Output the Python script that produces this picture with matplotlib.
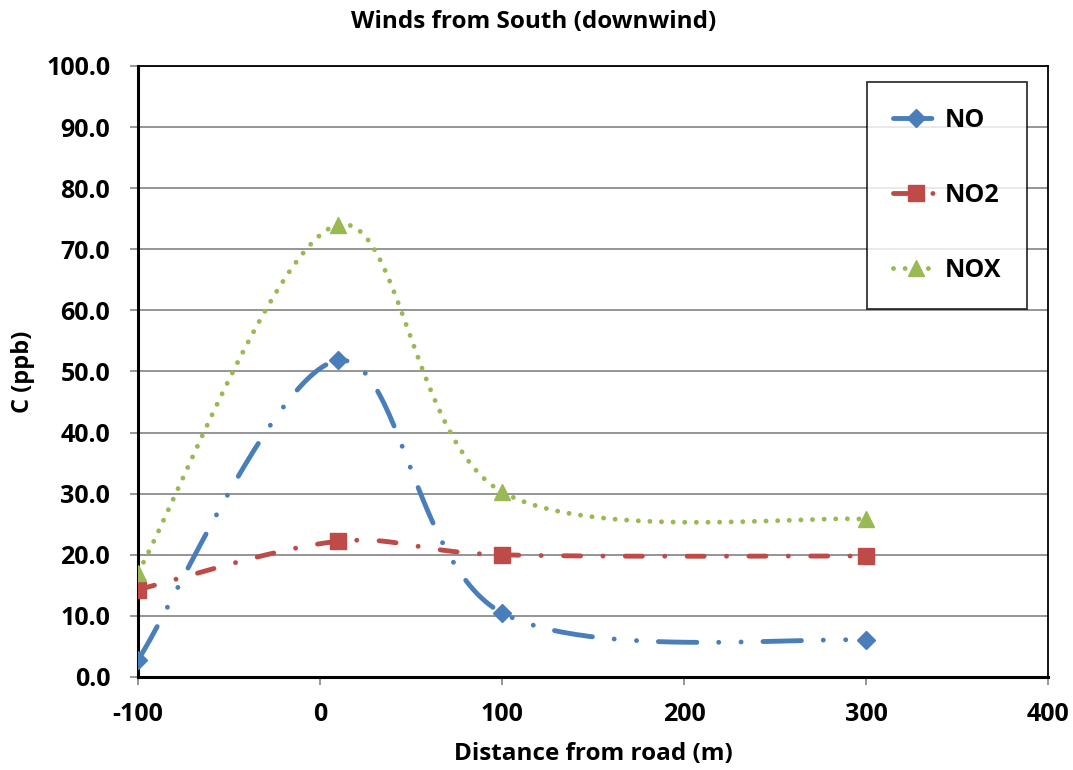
import matplotlib
matplotlib.use("Agg")
import matplotlib.pyplot as plt
import numpy as np
from matplotlib.ticker import FormatStrFormatter

plt.rcParams["font.family"] = ["Open Sans", "DejaVu Sans"]
plt.rcParams["font.weight"] = "bold"
plt.rcParams["axes.unicode_minus"] = False

# data
distance = [-100, 10, 100, 300]
no_vals = [2.8, 51.8, 10.5, 6.0]
no2_vals = [14.3, 22.2, 20.0, 19.8]
nox_vals = [17.1, 74.0, 30.3, 25.8]

x_ticks = [-100, 0, 100, 200, 300, 400]
y_ticks = np.arange(0, 101, 10)

COL_NO = "#4A7EBB"
COL_NO2 = "#BE4B48"
COL_NOX = "#98B954"


def smooth(xs, ys, n=60):
    # Excel-style smoothed line: Bezier segments with Catmull-Rom control points
    p = np.column_stack([xs, ys]).astype(float)
    p = np.vstack([p[0], p, p[-1]])
    out = []
    t = np.linspace(0, 1, n)[:, None]
    for i in range(1, len(p) - 2):
        p0, p1, p2, p3 = p[i - 1], p[i], p[i + 1], p[i + 2]
        c1 = p1 + (p2 - p0) / 6
        c2 = p2 - (p3 - p1) / 6
        seg = ((1 - t) ** 3) * p1 + 3 * ((1 - t) ** 2) * t * c1 \
            + 3 * (1 - t) * t ** 2 * c2 + t ** 3 * p2
        out.append(seg if i == 1 else seg[1:])
    out = np.vstack(out)
    return out[:, 0], out[:, 1]


fig = plt.figure(figsize=(10.73, 7.70), dpi=100)
ax = fig.add_axes([0.1286, 0.1208, 0.8481, 0.7935])

LW = 3.5
series = [
    ("NO", no_vals, COL_NO, "D", 9.5, (7.9, 4.5, 0.01, 4.6, 0.01, 4.5)),
    ("NO2", no2_vals, COL_NO2, "s", 11, (3.5, 4.6, 0.01, 4.6)),
    ("NOX", nox_vals, COL_NOX, "^", 12, (0.01, 2.38)),
]

handles = []
for name, vals, col, mk, ms, dash in series:
    sx, sy = smooth(distance, vals)
    ax.plot(sx, sy, color=col, lw=LW, dashes=dash, dash_capstyle="round",
            solid_capstyle="round", zorder=3)
    ax.plot(distance, vals, linestyle="none", marker=mk, ms=ms, color=col,
            markeredgecolor=col, zorder=4)
    h, = ax.plot([], [], color=col, lw=LW, dashes=dash, dash_capstyle="round",
                 marker=mk, ms=ms, markeredgecolor=col, label=name)
    handles.append(h)

ax.set_xlim(-100, 400)
ax.set_ylim(0, 100)
ax.set_xticks(x_ticks)
ax.set_yticks(y_ticks)
ax.yaxis.set_major_formatter(FormatStrFormatter("%.1f"))
ax.tick_params(labelsize=18, length=6, width=1.2, color="#868686")
ax.tick_params(axis="y", pad=14)
ax.tick_params(axis="x", pad=12)
ax.grid(axis="y", color="#8C8C8C", lw=1.3)
ax.set_axisbelow(True)
for s in ("top", "right"):
    ax.spines[s].set_linewidth(1.3)
    ax.spines[s].set_color("black")
for s in ("left", "bottom"):
    ax.spines[s].set_linewidth(2.2)
    ax.spines[s].set_color("black")

fig.text(0.497, 0.971, "Winds from South (downwind)", fontsize=17.5,
         fontweight="bold", ha="center", va="center")
ax.set_xlabel("Distance from road (m)", fontsize=17.5, fontweight="bold", labelpad=11)
ax.set_ylabel("C (ppb)", fontsize=17, fontweight="bold", labelpad=8)

leg = ax.legend(handles=handles, loc="upper left", bbox_to_anchor=(0.801, 0.974),
                fontsize=18, frameon=True, fancybox=False, edgecolor="black",
                labelspacing=2.0, handlelength=1.85, handletextpad=0.2,
                borderpad=1.05, borderaxespad=0)
leg.get_frame().set_linewidth(1.3)

fig.savefig("out.png", dpi=100)
